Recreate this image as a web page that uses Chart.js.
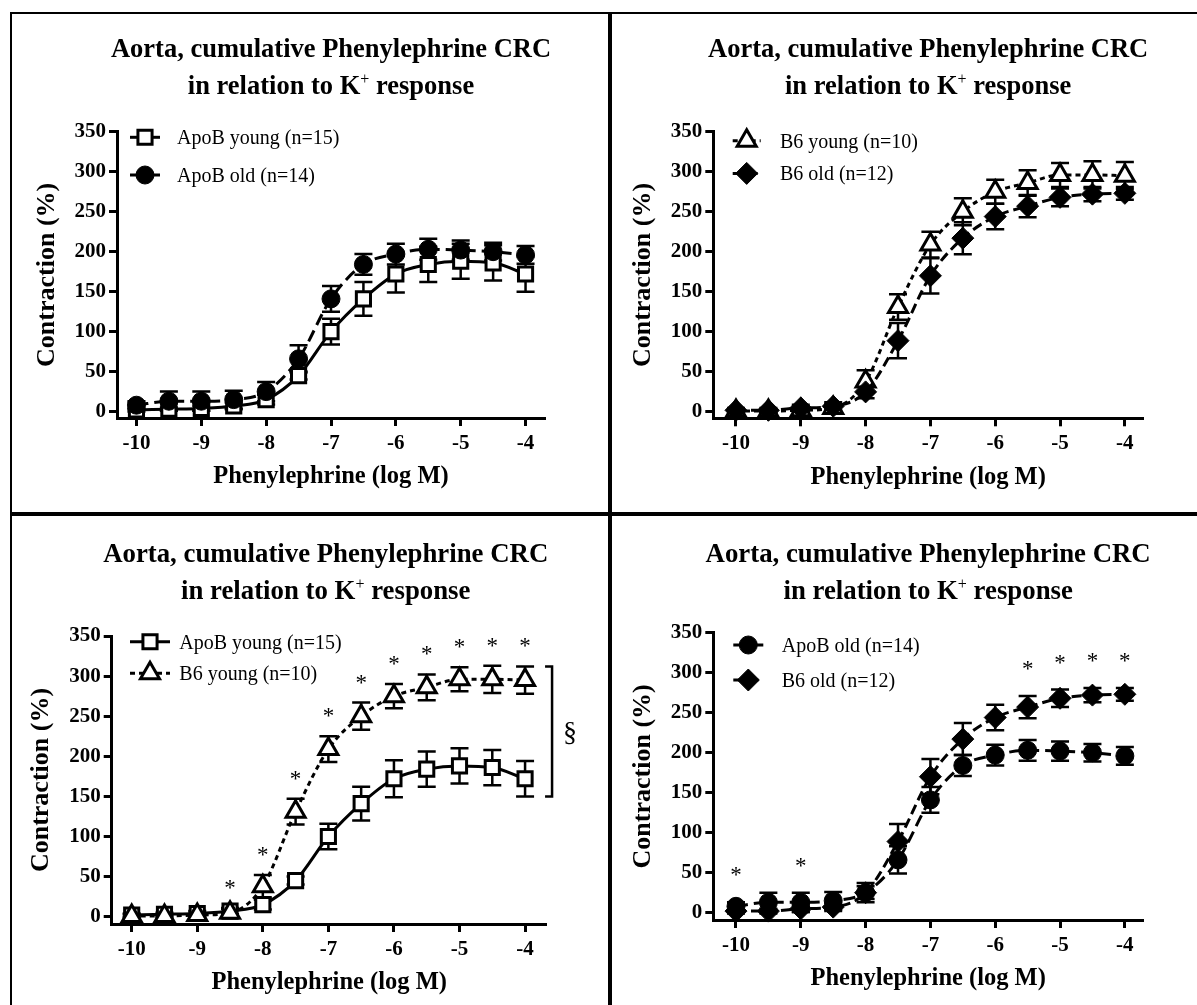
<!DOCTYPE html>
<html>
<head>
<meta charset="utf-8">
<title>Aorta, cumulative Phenylephrine CRC</title>
<script src="https://cdn.jsdelivr.net/npm/chart.js@4.4.1/dist/chart.umd.min.js"></script>
<style>
  body { margin: 0; background: #fff; }
  #fig { position: relative; width: 1197px; height: 1005px; overflow: hidden; background: #fff; }
  .rule { position: absolute; background: #000; }
  canvas { position: absolute; }
</style>
</head>
<body>
<div id="fig">
  <canvas id="p1" width="596" height="498" style="left:12px;top:14px"></canvas>
  <canvas id="p2" width="585" height="498" style="left:612px;top:14px"></canvas>
  <canvas id="p3" width="596" height="489" style="left:12px;top:516px"></canvas>
  <canvas id="p4" width="585" height="489" style="left:612px;top:516px"></canvas>
  <div class="rule" style="left:10px;top:12px;width:1187px;height:2px"></div>
  <div class="rule" style="left:10px;top:12px;width:2px;height:993px"></div>
  <div class="rule" style="left:608px;top:12px;width:4px;height:993px"></div>
  <div class="rule" style="left:10px;top:512px;width:1187px;height:4px"></div>
</div>
<script>
// log [phenylephrine] steps and axis ticks
const logDose = [-10, -9.5, -9, -8.5, -8, -7.5, -7, -6.5, -6, -5.5, -5, -4.5, -4];
const xTicks = [-10, -9, -8, -7, -6, -5, -4];
const yTicks = [0, 50, 100, 150, 200, 250, 300, 350];

// contraction in % of K+ response, mean and SEM
const apoYoungMean = [2, 3, 4, 7, 15, 45, 100, 141, 172, 184, 188, 186, 172];
const apoYoungSem  = [2, 2, 3, 4, 6, 5, 16, 21, 23, 22, 22, 22, 22];
const apoOldMean   = [8, 13, 13, 15, 25, 66, 141, 184, 197, 203, 202, 200, 196];
const apoOldSem    = [5, 12, 12, 11, 12, 17, 16, 13, 13, 13, 12, 11, 11];
const b6YoungMean  = [1, 1, 2, 5, 38, 131, 209, 250, 275, 286, 296, 296, 295];
const b6YoungSem   = [2, 2, 2, 5, 14, 16, 16, 17, 15, 16, 15, 17, 17];
const b6OldMean    = [2, 2, 5, 7, 25, 89, 170, 217, 244, 257, 268, 272, 273];
const b6OldSem     = [3, 3, 4, 5, 8, 22, 22, 20, 16, 14, 11, 9, 8];

// doses with a significant difference (*)
const starsYoung = [-8.5, -8, -7.5, -7, -6.5, -6, -5.5, -5, -4.5, -4];
const starsOld   = [-10, -9, -5.5, -5, -4.5, -4];

const SERIF = '"Liberation Serif", "Times New Roman", serif';
const titleLine1 = 'Aorta, cumulative Phenylephrine CRC';
const titleLine2 = ['in relation to K', '+', ' response'];

Chart.defaults.font.family = SERIF;
Chart.defaults.color = '#000';

const groups = {
  apoYoung: { label: 'ApoB young (n=15)', mean: apoYoungMean, sem: apoYoungSem,
              shape: 'rect', r: 10, fill: '#fff', pbw: 3, dash: [] },
  apoOld:   { label: 'ApoB old (n=14)', mean: apoOldMean, sem: apoOldSem,
              shape: 'circle', r: 9, fill: '#000', pbw: 1, dash: [12, 6] },
  b6Young:  { label: 'B6 young (n=10)', mean: b6YoungMean, sem: b6YoungSem,
              shape: 'triangle', r: 11, fill: '#fff', pbw: 3, dash: [5, 4] },
  b6Old:    { label: 'B6 old (n=12)', mean: b6OldMean, sem: b6OldSem,
              shape: 'rectRot', r: 11, fill: '#000', pbw: 1, dash: [10, 5] }
};

// SEM bars, drawn under lines and symbols
const errorBars = {
  id: 'errorBars',
  beforeDatasetsDraw(chart) {
    const { ctx, scales: { x, y } } = chart;
    ctx.save();
    ctx.strokeStyle = '#000';
    ctx.lineWidth = 2.5;
    chart.data.datasets.forEach(ds => {
      ds.data.forEach((p, j) => {
        const px = x.getPixelForValue(p.x);
        const hi = y.getPixelForValue(p.y + ds.sem[j]);
        const lo = y.getPixelForValue(p.y - ds.sem[j]);
        ctx.beginPath();
        ctx.moveTo(px, hi); ctx.lineTo(px, lo);
        ctx.moveTo(px - 9, hi); ctx.lineTo(px + 9, hi);
        ctx.moveTo(px - 9, lo); ctx.lineTo(px + 9, lo);
        ctx.stroke();
      });
    });
    ctx.restore();
  }
};

function titlePlugin(lay) {
  return {
    id: 'panelTitle',
    afterDraw(chart) {
      const { ctx, chartArea } = chart;
      const cx = (chartArea.left + chartArea.right) / 2 + (lay.titleDx || 0);
      ctx.save();
      ctx.fillStyle = '#000';
      ctx.textBaseline = 'alphabetic';
      ctx.font = 'bold ' + lay.titleSize + 'px ' + SERIF;
      ctx.textAlign = 'center';
      ctx.fillText(titleLine1, cx, lay.titleBase[0]);
      ctx.textAlign = 'left';
      const wa = ctx.measureText(titleLine2[0]).width;
      const wb = ctx.measureText(titleLine2[2]).width;
      ctx.font = '16px ' + SERIF;
      const ws = ctx.measureText(titleLine2[1]).width;
      let x0 = cx - (wa + ws + wb) / 2;
      const b = lay.titleBase[1];
      ctx.font = 'bold ' + lay.titleSize + 'px ' + SERIF;
      ctx.fillText(titleLine2[0], x0, b);
      ctx.font = '16px ' + SERIF;
      ctx.fillText(titleLine2[1], x0 + wa, b - 10);
      ctx.font = 'bold ' + lay.titleSize + 'px ' + SERIF;
      ctx.fillText(titleLine2[2], x0 + wa + ws, b);
      ctx.restore();
    }
  };
}

// legend rows: line sample with the symbol in the middle
function legendPlugin(lg) {
  return {
    id: 'curveLegend',
    afterDraw(chart) {
      const ctx = chart.ctx;
      chart.data.datasets.forEach((ds, k) => {
        const cy = lg.y + k * lg.gap;
        ctx.save();
        ctx.strokeStyle = '#000';
        ctx.lineWidth = 3;
        ctx.setLineDash(ds.borderDash);
        ctx.beginPath();
        ctx.moveTo(lg.x - lg.half, cy);
        ctx.lineTo(lg.x + lg.half, cy);
        ctx.stroke();
        ctx.setLineDash([]);
        ctx.fillStyle = ds.pointBackgroundColor;
        ctx.lineWidth = ds.pointBorderWidth;
        Chart.helpers.drawPoint(ctx, { pointStyle: ds.pointStyle, radius: ds.pointRadius,
          rotation: 0, borderWidth: ds.pointBorderWidth }, lg.x, cy);
        ctx.fillStyle = '#000';
        ctx.font = '20px ' + SERIF;
        ctx.textAlign = 'left';
        ctx.textBaseline = 'alphabetic';
        ctx.fillText(ds.label, lg.text, cy + 7);
        ctx.restore();
      });
    }
  };
}

// asterisks above the highest SEM bar at each listed dose
function starPlugin(doses, lift) {
  return {
    id: 'stars',
    afterDraw(chart) {
      const { ctx, scales: { x, y } } = chart;
      ctx.save();
      ctx.fillStyle = '#000';
      ctx.font = '23px ' + SERIF;
      ctx.textAlign = 'center';
      ctx.textBaseline = 'alphabetic';
      doses.forEach(d => {
        const j = logDose.indexOf(d);
        const top = Math.max(...chart.data.datasets.map(ds => ds.data[j].y + ds.sem[j]));
        ctx.fillText('*', x.getPixelForValue(d), y.getPixelForValue(top) - lift + 12);
      });
      ctx.restore();
    }
  };
}

// bracket between the last points of two curves, marked with §
function bracketPlugin(upper, lower, gap) {
  return {
    id: 'bracket',
    afterDraw(chart) {
      const { ctx, scales: { x, y } } = chart;
      const n = logDose.length - 1;
      const du = chart.data.datasets[upper], dl = chart.data.datasets[lower];
      const bx = x.getPixelForValue(logDose[n]) + gap;
      const top = y.getPixelForValue(du.data[n].y + du.sem[n]);
      const bot = y.getPixelForValue(dl.data[n].y - dl.sem[n]);
      ctx.save();
      ctx.strokeStyle = '#000';
      ctx.lineWidth = 2.5;
      ctx.beginPath();
      ctx.moveTo(bx - 7, top); ctx.lineTo(bx, top); ctx.lineTo(bx, bot); ctx.lineTo(bx - 7, bot);
      ctx.stroke();
      ctx.fillStyle = '#000';
      ctx.font = '28px ' + SERIF;
      ctx.textAlign = 'center';
      ctx.textBaseline = 'middle';
      ctx.fillText('§', bx + 18, (top + bot) / 2 + 2);
      ctx.restore();
    }
  };
}

function makePanel(id, keys, lay, extra) {
  const datasets = keys.map((k, i) => {
    const g = groups[k];
    return {
      label: g.label,
      data: logDose.map((d, j) => ({ x: d, y: g.mean[j] })),
      sem: g.sem,
      borderColor: '#000',
      borderWidth: 3,
      borderDash: g.dash,
      pointStyle: g.shape,
      pointRadius: g.r,
      pointHoverRadius: g.r,
      pointBackgroundColor: g.fill,
      pointBorderColor: '#000',
      pointBorderWidth: g.pbw,
      cubicInterpolationMode: 'monotone',
      fill: false,
      clip: false,
      order: keys.length - 1 - i
    };
  });
  const axisGrid = { display: true, drawOnChartArea: false, drawTicks: true,
                     tickLength: 8, tickWidth: 3, tickColor: '#000' };
  const axisBorder = { display: true, width: 3, color: '#000' };
  new Chart(document.getElementById(id), {
    type: 'line',
    data: { datasets },
    options: {
      responsive: false,
      animation: false,
      devicePixelRatio: 1,
      events: [],
      layout: { padding: { left: 0, top: lay.top, right: lay.w - lay.right, bottom: 0 } },
      plugins: { legend: { display: false }, tooltip: { enabled: false }, title: { display: false } },
      scales: {
        x: {
          type: 'linear', min: lay.xmin, max: lay.xmax,
          afterBuildTicks: s => { s.ticks = xTicks.map(v => ({ value: v })); },
          afterFit: s => { s.height = lay.h - lay.bottom; },
          ticks: { autoSkip: false, maxRotation: 0, padding: 5,
                   font: { size: 21, weight: 'bold' }, callback: v => String(v) },
          grid: axisGrid,
          border: axisBorder,
          title: { display: true, text: 'Phenylephrine (log M)',
                   font: { size: 24.5, weight: 'bold', lineHeight: 1.2 },
                   padding: { top: 0, bottom: lay.h - lay.bottom - 59 - 14.7 } }
        },
        y: {
          type: 'linear', min: lay.ymin, max: 350,
          afterBuildTicks: s => { s.ticks = yTicks.map(v => ({ value: v })); },
          afterFit: s => { s.width = lay.left; },
          ticks: { padding: 3, font: { size: 21, weight: 'bold' } },
          grid: axisGrid,
          border: axisBorder,
          title: { display: true, text: 'Contraction (%)',
                   font: { size: 26, weight: 'bold', lineHeight: 1.2 },
                   padding: { top: lay.left - 70 - 15.6, bottom: 0 } }
        }
      }
    },
    plugins: [errorBars, titlePlugin(lay), legendPlugin(lay.legend)].concat(extra || [])
  });
}

makePanel('p1', ['apoYoung', 'apoOld'], {
  w: 596, h: 498, left: 105, top: 117.7, right: 533, bottom: 404,
  xmin: -10.3, xmax: -3.7, ymin: -8, titleSize: 26.5, titleBase: [42.7, 80],
  legend: { x: 133, y: 123.3, gap: 37.7, half: 15, text: 165 }
});
makePanel('p2', ['b6Young', 'b6Old'], {
  w: 585, h: 498, left: 101.3, top: 117.7, right: 531, bottom: 404.3,
  xmin: -10.35, xmax: -3.72, ymin: -8, titleSize: 26.5, titleBase: [42.7, 80],
  legend: { x: 134.7, y: 126.7, gap: 32.7, half: 14, text: 168 }
});
makePanel('p3', ['apoYoung', 'b6Young'], {
  w: 596, h: 489, left: 99.7, top: 120, right: 534.7, bottom: 408,
  xmin: -10.305, xmax: -3.67, ymin: -9.1, titleSize: 26.8, titleBase: [45.7, 83], titleDx: -3.5,
  legend: { x: 138, y: 125.7, gap: 31.6, half: 20, text: 167.3 }
}, [starPlugin(starsYoung, 25), bracketPlugin(1, 0, 27)]);
makePanel('p4', ['apoOld', 'b6Old'], {
  w: 585, h: 489, left: 101.3, top: 116.7, right: 531, bottom: 404,
  xmin: -10.35, xmax: -3.72, ymin: -9.1, titleSize: 26.8, titleBase: [45.7, 83],
  legend: { x: 136.3, y: 129, gap: 35, half: 15, text: 169.7 }
}, [starPlugin(starsOld, 32)]);
</script>
</body>
</html>
